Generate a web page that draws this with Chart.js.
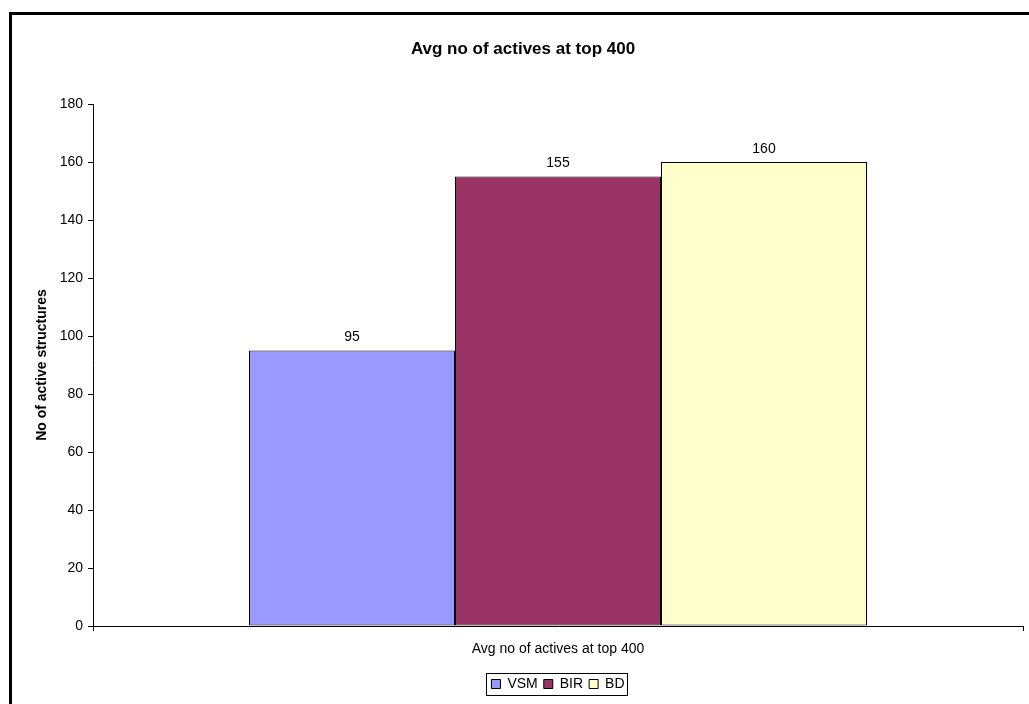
<!DOCTYPE html>
<html>
<head>
<meta charset="utf-8">
<title>Avg no of actives at top 400</title>
<script src="https://cdn.jsdelivr.net/npm/chart.js@4.4.1/dist/chart.umd.min.js"></script>
<style>
  html, body { margin: 0; padding: 0; background: #fff; }
  #wrap { width: 1029px; height: 704px; }
</style>
</head>
<body>
<div id="wrap"><canvas id="chart" width="1029" height="704"></canvas></div>
<script>
Chart.defaults.font.family = "'Liberation Sans', Arial, sans-serif";
Chart.defaults.color = '#000';

const categories = ['Avg no of actives at top 400'];
const seriesNames = ['VSM', 'BIR', 'BD'];
const vsmValues = [95];
const birValues = [155];
const bdValues = [160];
const seriesColors = ['#9999ff', '#993366', '#ffffcc'];
const yMin = 0, yMax = 180, yStep = 20;

// thick frame round the whole chart (runs off the right and bottom edges)
const chartFrame = {
  id: 'chartFrame',
  afterDraw: chart => {
    const ctx = chart.ctx;
    ctx.save();
    ctx.lineWidth = 3;
    ctx.strokeStyle = '#000';
    ctx.strokeRect(10.5, 13.5, 1200, 900);
    ctx.restore();
  }
};

// numbers above each bar
const valueLabels = {
  id: 'valueLabels',
  afterDatasetsDraw: chart => {
    const ctx = chart.ctx;
    ctx.save();
    ctx.font = "14px 'Liberation Sans', Arial, sans-serif";
    ctx.fillStyle = '#000';
    ctx.textAlign = 'center';
    ctx.textBaseline = 'bottom';
    chart.data.datasets.forEach((ds, i) => {
      chart.getDatasetMeta(i).data.forEach((bar, j) => {
        ctx.fillText(ds.data[j], bar.x, bar.y - 6);
      });
    });
    ctx.restore();
  }
};

// box round the legend items
const legendBox = {
  id: 'legendBox',
  afterDraw: chart => {
    const boxes = chart.legend && chart.legend.legendHitBoxes;
    if (!boxes || !boxes.length) return;
    const left = Math.min(...boxes.map(b => b.left)) - 5;
    const right = Math.max(...boxes.map(b => b.left + b.width)) + 3;
    const top = Math.min(...boxes.map(b => b.top)) - 4;
    const bottom = Math.max(...boxes.map(b => b.top + b.height)) + 4;
    const ctx = chart.ctx;
    ctx.save();
    ctx.lineWidth = 1;
    ctx.strokeStyle = '#000';
    ctx.strokeRect(Math.round(left) + 0.5, Math.round(top) + 0.5, Math.round(right - left), Math.round(bottom - top));
    ctx.restore();
  }
};

const seriesData = [vsmValues, birValues, bdValues];

const chart = new Chart(document.getElementById('chart'), {
  type: 'bar',
  plugins: [chartFrame, valueLabels, legendBox],
  data: {
    labels: categories,
    datasets: seriesNames.map((name, i) => ({
      label: name,
      data: seriesData[i],
      backgroundColor: seriesColors[i],
      borderColor: '#000',
      borderWidth: 1,
      borderSkipped: false,
      categoryPercentage: 618 / 930,
      barPercentage: 1
    }))
  },
  options: {
    responsive: false,
    animation: false,
    layout: {
      padding: { left: 23, right: 6, top: 0, bottom: 3 }
    },
    plugins: {
      title: {
        display: true,
        text: 'Avg no of actives at top 400',
        font: { size: 17, weight: 'bold' },
        color: '#000',
        padding: { top: 39, bottom: 44.6 }
      },
      legend: {
        position: 'bottom',
        fullSize: false,
        labels: {
          color: '#000',
          font: { size: 14 },
          boxWidth: 9,
          boxHeight: 9,
          padding: 6
        }
      },
      tooltip: { enabled: false }
    },
    scales: {
      x: {
        afterFit: scale => { scale.height = 45; },
        grid: {
          drawOnChartArea: false,
          drawTicks: true,
          tickLength: 5,
          color: '#000'
        },
        border: { display: true, color: '#000', width: 1 },
        ticks: {
          color: '#000',
          font: { size: 14 },
          padding: 10
        }
      },
      y: {
        min: yMin,
        max: yMax,
        afterFit: scale => { scale.width = 70; },
        grid: {
          drawOnChartArea: false,
          drawTicks: true,
          tickLength: 5,
          color: '#000'
        },
        border: { display: true, color: '#000', width: 1 },
        title: {
          display: true,
          text: 'No of active structures',
          color: '#000',
          font: { size: 14, weight: 'bold' },
          padding: { top: 11, bottom: 0 }
        },
        ticks: {
          stepSize: yStep,
          color: '#000',
          font: { size: 14 },
          padding: 5
        }
      }
    }
  }
});
</script>
</body>
</html>
